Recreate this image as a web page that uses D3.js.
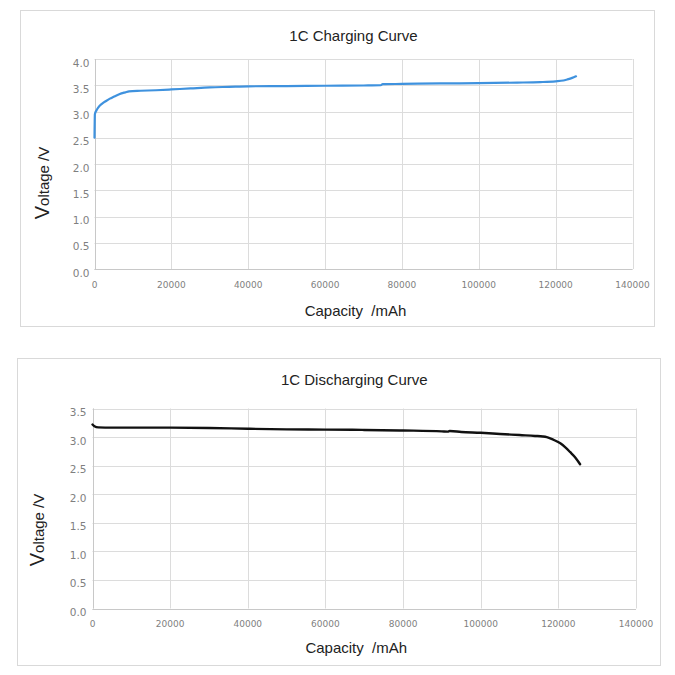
<!DOCTYPE html>
<html>
<head>
<meta charset="utf-8">
<script src="https://cdn.jsdelivr.net/npm/d3@7"></script>
<style>
  html, body { margin: 0; padding: 0; background: #fff; }
  svg { display: block; }
</style>
</head>
<body>
<svg id="chart" width="675" height="675"></svg>
<script>
// ---- Data ----
const xTicks = [0, 20000, 40000, 60000, 80000, 100000, 120000, 140000];
const chargeYTicks = [0, 0.5, 1.0, 1.5, 2.0, 2.5, 3.0, 3.5, 4.0];
const dischargeYTicks = [0, 0.5, 1.0, 1.5, 2.0, 2.5, 3.0, 3.5];

const chargeCapacity = [0, 100, 500, 1000, 2000, 3000, 4000, 5000, 6000, 7000, 8000, 9000, 12000, 16000, 20000, 25000, 30000, 35000, 40000, 50000, 60000, 70000, 74500, 75000, 80000, 90000, 100000, 110000, 116000, 120000, 122000, 123000, 124300, 125300];
const chargeVoltage  = [2.5, 2.95, 3.02, 3.08, 3.15, 3.20, 3.245, 3.28, 3.315, 3.345, 3.365, 3.385, 3.395, 3.405, 3.42, 3.44, 3.46, 3.47, 3.48, 3.485, 3.49, 3.495, 3.50, 3.52, 3.525, 3.535, 3.54, 3.55, 3.56, 3.575, 3.59, 3.61, 3.64, 3.67];

const dischargeCapacity = [0, 500, 1500, 5000, 10000, 20000, 30000, 40000, 50000, 60000, 70000, 80000, 90000, 91500, 92000, 95000, 100000, 105000, 110000, 114000, 116000, 117000, 117900, 119000, 120500, 121800, 123000, 124400, 125600];
const dischargeVoltage  = [3.22, 3.19, 3.17, 3.165, 3.165, 3.165, 3.16, 3.145, 3.135, 3.13, 3.125, 3.115, 3.10, 3.095, 3.105, 3.09, 3.075, 3.055, 3.035, 3.02, 3.01, 2.998, 2.978, 2.945, 2.89, 2.82, 2.74, 2.64, 2.525];

const charts = [
  {
    title: "1C Charging Curve", xTitle: "Capacity  /mAh", yTitleFirst: "V", yTitleRest: "oltage /V",
    cap: chargeCapacity, volt: chargeVoltage, yTicks: chargeYTicks, yMax: 4.0,
    color: "#3f92de", width: 2.2,
    box: {x: 20.5, y: 10.5, w: 634, h: 316},
    plot: {l: 94.5, r: 632.5, t: 59, b: 269},
    titleY: 40.5, xTitleY: 316, xTickY: 287.5, yLabelX: 89.5, yTitleX: 49, yTitleCY: 183
  },
  {
    title: "1C Discharging Curve", xTitle: "Capacity  /mAh", yTitleFirst: "V", yTitleRest: "oltage /V",
    cap: dischargeCapacity, volt: dischargeVoltage, yTicks: dischargeYTicks, yMax: 3.5,
    color: "#111111", width: 2.4,
    box: {x: 17.5, y: 358.5, w: 643, h: 307},
    plot: {l: 92.5, r: 636, t: 408.5, b: 608.5},
    titleY: 385, xTitleY: 653, xTickY: 626.5, yLabelX: 86.5, yTitleX: 43.5, yTitleCY: 530
  }
];

const svg = d3.select("#chart");

charts.forEach(c => {
  const g = svg.append("g");
  g.append("rect")
    .attr("x", c.box.x).attr("y", c.box.y)
    .attr("width", c.box.w).attr("height", c.box.h)
    .attr("fill", "#fff").attr("stroke", "#d9d9d9").attr("stroke-width", 1);

  const x = d3.scaleLinear().domain([0, 140000]).range([c.plot.l, c.plot.r]);
  const y = d3.scaleLinear().domain([0, c.yMax]).range([c.plot.b, c.plot.t]);

  // Horizontal gridlines
  g.append("g").selectAll("line").data(c.yTicks).join("line")
    .attr("x1", c.plot.l).attr("x2", c.plot.r)
    .attr("y1", d => Math.round(y(d)) + 0.5).attr("y2", d => Math.round(y(d)) + 0.5)
    .attr("stroke", "#dcdcdc").attr("stroke-width", 1);
  // Vertical gridlines
  g.append("g").selectAll("line").data(xTicks).join("line")
    .attr("x1", d => Math.round(x(d)) + 0.5).attr("x2", d => Math.round(x(d)) + 0.5)
    .attr("y1", c.plot.t).attr("y2", c.plot.b)
    .attr("stroke", "#dcdcdc").attr("stroke-width", 1);
  // Axis lines
  g.append("line").attr("x1", Math.round(x(0)) + 0.5).attr("x2", Math.round(x(0)) + 0.5)
    .attr("y1", c.plot.t).attr("y2", c.plot.b).attr("stroke", "#c8c8c8");
  g.append("line").attr("x1", c.plot.l).attr("x2", c.plot.r)
    .attr("y1", Math.round(y(0)) + 0.5).attr("y2", Math.round(y(0)) + 0.5).attr("stroke", "#c8c8c8");

  // Y tick labels
  g.append("g").selectAll("text").data(c.yTicks).join("text")
    .attr("x", c.yLabelX).attr("y", d => y(d) + 7.5)
    .attr("text-anchor", "end")
    .attr("font-family", "DejaVu Sans, Verdana, sans-serif")
    .attr("font-size", 10.5).attr("fill", "#7f7f7f")
    .text(d => d3.format(".1f")(d));
  // X tick labels
  g.append("g").selectAll("text").data(xTicks).join("text")
    .attr("x", d => x(d)).attr("y", c.xTickY)
    .attr("text-anchor", "middle")
    .attr("font-family", "DejaVu Sans, Verdana, sans-serif")
    .attr("font-size", 9).attr("fill", "#7f7f7f")
    .text(d => d);

  // Line
  const pts = c.cap.map((v, i) => [v, c.volt[i]]);
  const line = d3.line().x(d => x(d[0])).y(d => y(d[1])).curve(d3.curveMonotoneX);
  g.append("path").datum(pts)
    .attr("d", line).attr("fill", "none")
    .attr("stroke", c.color).attr("stroke-width", c.width)
    .attr("stroke-linejoin", "round").attr("stroke-linecap", "round");

  // Titles
  g.append("text").attr("x", (c.plot.l + c.plot.r) / 2 - 10).attr("y", c.titleY)
    .attr("text-anchor", "middle")
    .attr("font-family", "Liberation Sans, Arial, sans-serif")
    .attr("font-size", 15).attr("fill", "#222")
    .text(c.title);
  g.append("text").attr("x", (c.plot.l + c.plot.r) / 2 - 8).attr("y", c.xTitleY)
    .attr("text-anchor", "middle")
    .attr("font-family", "Liberation Sans, Arial, sans-serif")
    .attr("font-size", 15).attr("fill", "#222")
    .attr("xml:space", "preserve")
    .style("white-space", "pre")
    .text(c.xTitle);
  const yt = g.append("text")
    .attr("transform", `translate(${c.yTitleX},${c.yTitleCY}) rotate(-90)`)
    .attr("text-anchor", "middle")
    .attr("font-family", "Liberation Sans, Arial, sans-serif")
    .attr("fill", "#222");
  yt.append("tspan").attr("font-size", 20).text(c.yTitleFirst);
  yt.append("tspan").attr("font-size", 15).text(c.yTitleRest);
});
</script>
</body>
</html>
